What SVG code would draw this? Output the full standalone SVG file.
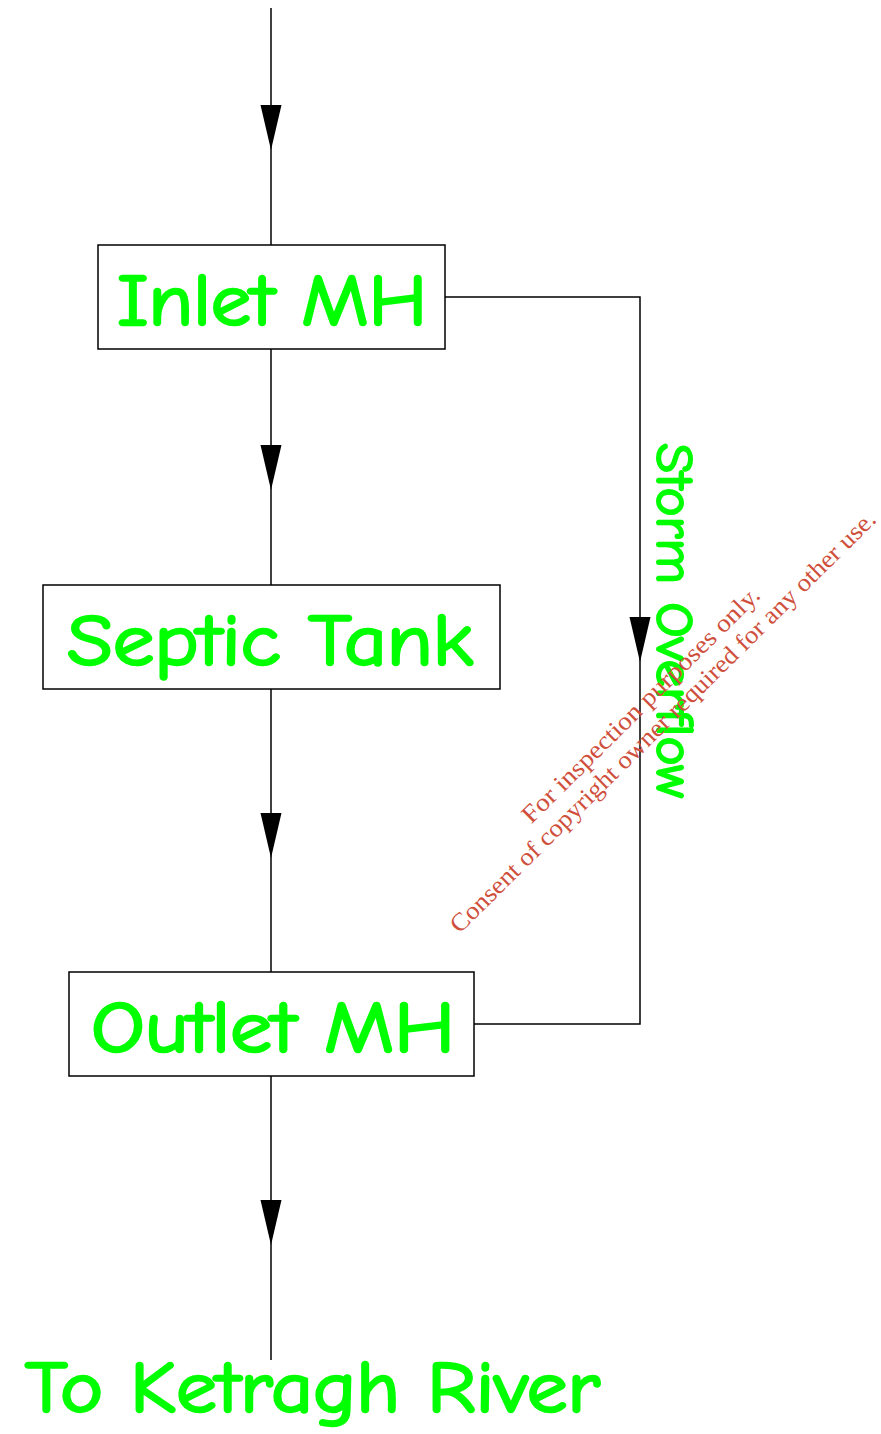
<svg xmlns="http://www.w3.org/2000/svg" width="881" height="1434" viewBox="0 0 881 1434">
<style>
.box{fill:#fff;stroke:#000;stroke-width:1.5}
.ln{fill:none;stroke:#000;stroke-width:1.5}
.ah{fill:#000;stroke:none}
.lbl{font-family:"Comic Sans MS","Comic Neue","Noto Sans",sans-serif;fill:#00ff00;stroke:#00ff00;stroke-width:2.5;stroke-linejoin:round;stroke-linecap:round;font-size:72px}
.wm{font-family:"Liberation Serif","Times New Roman",serif;fill:#cf4f3c;font-size:25px}
</style>
<defs>
<path id="arr" d="M-10.5,-45 L10.5,-45 L0,0 Z"/>
</defs>
<rect width="881" height="1434" fill="#fff"/>
<g id="connectors">
<line class="ln" x1="271" y1="8" x2="271" y2="245"/>
<use href="#arr" class="ah" x="271" y="150"/>
<line class="ln" x1="271" y1="349" x2="271" y2="585"/>
<use href="#arr" class="ah" x="271" y="490"/>
<line class="ln" x1="271" y1="689" x2="271" y2="972"/>
<use href="#arr" class="ah" x="271" y="858"/>
<line class="ln" x1="271" y1="1076" x2="271" y2="1360"/>
<use href="#arr" class="ah" x="271" y="1245"/>
<polyline class="ln" points="445,297 640,297 640,1024 474,1024"/>
<use href="#arr" class="ah" x="640" y="662"/>
<text class="lbl" transform="translate(657,443) rotate(90)" x="0" y="0" textLength="355" lengthAdjust="spacingAndGlyphs" style="font-size:52px;stroke-width:2">Storm Overflow</text>
</g>
<g id="inlet">
<rect class="box" x="98" y="245" width="347" height="104"/>
<text class="lbl" x="117" y="325" textLength="310" lengthAdjust="spacingAndGlyphs">Inlet MH</text>
</g>
<g id="septic">
<rect class="box" x="43" y="585" width="457" height="104"/>
<text class="lbl" x="67" y="665" textLength="406" lengthAdjust="spacingAndGlyphs">Septic Tank</text>
</g>
<g id="outlet">
<rect class="box" x="69" y="972" width="405" height="104"/>
<text class="lbl" x="91" y="1052" textLength="364" lengthAdjust="spacingAndGlyphs">Outlet MH</text>
</g>
<g id="river">
<text class="lbl" x="25" y="1412" textLength="575" lengthAdjust="spacingAndGlyphs">To Ketragh River</text>
</g>
<g id="watermark">
<text class="wm" text-anchor="middle" transform="rotate(-44.7 646.5 710.5)" x="646.5" y="710.5" textLength="324" lengthAdjust="spacingAndGlyphs">For inspection purposes only.</text>
<text class="wm" text-anchor="middle" transform="rotate(-44.7 668.5 727.5)" x="668.5" y="727.5" textLength="588" lengthAdjust="spacingAndGlyphs">Consent of copyright owner required for any other use.</text>
</g>
</svg>
